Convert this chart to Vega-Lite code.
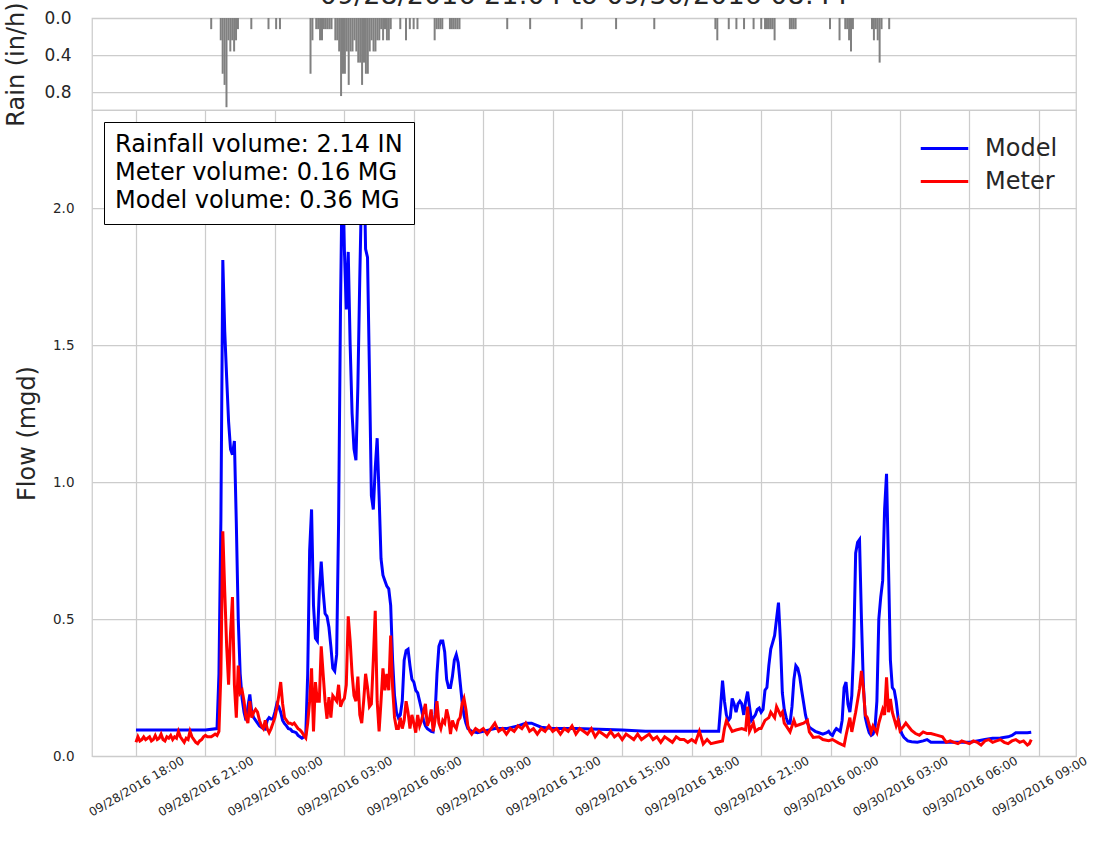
{
  "$schema": "https://vega.github.io/schema/vega-lite/v6.json",
  "background": "white",
  "padding": {"left": 4, "top": -19, "right": 0, "bottom": 0},
  "config": {
    "font": "DejaVu Sans",
    "view": {"stroke": "#cccccc", "strokeWidth": 1.25},
    "axis": {"gridColor": "#cccccc", "gridWidth": 1.25, "domain": false, "ticks": false, "labelColor": "#262626", "titleColor": "#262626", "titleFontWeight": "normal"}
  },
  "spacing": 0,
  "bounds": "flush",
  "resolve": {"legend": {"color": "independent", "shape": "independent"}},
  "vconcat": [
    {
      "title": {"text": "09/28/2016 21:04 to 09/30/2016 08:44", "fontSize": 27, "fontWeight": "normal", "color": "#262626", "anchor": "middle", "offset": -8},
      "width": 984,
      "height": 92,
      "data": {"name": "rain"},
      "mark": {"type": "bar", "color": "#808080", "size": 2},
      "encoding": {
        "x": {"field": "t", "type": "temporal", "scale": {"domain": [{"year": 2016, "month": 9, "date": 28, "hours": 16, "minutes": 6}, {"year": 2016, "month": 9, "date": 30, "hours": 10, "minutes": 36}]}, "axis": null},
        "y": {"field": "r", "type": "quantitative", "scale": {"domain": [0, 0.99], "reverse": true, "nice": false}, "axis": {"values": [0, 0.4, 0.8], "format": ".1f", "labelFontSize": 17, "labelPadding": 21, "title": "Rain (in/h)", "titleFontSize": 24, "titlePadding": 15}}
      }
    },
    {
      "width": 984,
      "height": 646,
      "encoding": {
        "x": {"field": "t", "type": "temporal", "scale": {"domain": [{"year": 2016, "month": 9, "date": 28, "hours": 16, "minutes": 6}, {"year": 2016, "month": 9, "date": 30, "hours": 10, "minutes": 36}]}, "axis": {"format": "%m/%d/%Y %H:%M", "values": [
          {"year": 2016, "month": 9, "date": 28, "hours": 18},
          {"year": 2016, "month": 9, "date": 28, "hours": 21},
          {"year": 2016, "month": 9, "date": 29, "hours": 0},
          {"year": 2016, "month": 9, "date": 29, "hours": 3},
          {"year": 2016, "month": 9, "date": 29, "hours": 6},
          {"year": 2016, "month": 9, "date": 29, "hours": 9},
          {"year": 2016, "month": 9, "date": 29, "hours": 12},
          {"year": 2016, "month": 9, "date": 29, "hours": 15},
          {"year": 2016, "month": 9, "date": 29, "hours": 18},
          {"year": 2016, "month": 9, "date": 29, "hours": 21},
          {"year": 2016, "month": 9, "date": 30, "hours": 0},
          {"year": 2016, "month": 9, "date": 30, "hours": 3},
          {"year": 2016, "month": 9, "date": 30, "hours": 6},
          {"year": 2016, "month": 9, "date": 30, "hours": 9}
        ], "labelAngle": -30, "labelAlign": "center", "labelBaseline": "middle", "labelPadding": 30, "labelFontSize": 12, "labelOverlap": false, "title": null, "grid": true}},
        "y": {"field": "v", "type": "quantitative", "scale": {"domain": [0, 2.358], "nice": false}, "axis": {"values": [0, 0.5, 1, 1.5, 2], "format": ".1f", "labelFontSize": 13.5, "labelPadding": 18, "title": "Flow (mgd)", "titleFontSize": 24, "titlePadding": 13}}
      },
      "layer": [
        {
          "data": {"name": "model"},
          "mark": {"type": "line", "strokeWidth": 3},
          "encoding": {"color": {"datum": "Model", "type": "nominal", "scale": {"domain": ["Model", "Meter"], "range": ["#0000ff", "#ff0000"]}, "legend": {"title": null, "orient": "top-right", "offset": 18, "padding": 0, "symbolType": "M-1.25,0H1.25", "symbolSize": 1444, "symbolStrokeWidth": 3, "labelFontSize": 24, "labelColor": "#262626", "labelOffset": 20, "rowPadding": 0}}}
        },
        {
          "data": {"name": "meter"},
          "mark": {"type": "line", "strokeWidth": 3},
          "encoding": {"color": {"datum": "Meter", "type": "nominal"}}
        },
        {
          "data": {"values": [{"info": "Rainfall volume: 2.14 IN"}, {"info": "Meter volume: 0.16 MG"}, {"info": "Model volume: 0.36 MG"}]},
          "mark": {"type": "point", "opacity": 0},
          "encoding": {
            "shape": {"field": "info", "type": "nominal", "scale": {"domain": ["Rainfall volume: 2.14 IN", "Meter volume: 0.16 MG", "Model volume: 0.36 MG"]}, "legend": {"title": null, "orient": "top-left", "offset": 12, "padding": 11, "symbolSize": 1, "symbolOpacity": 0, "symbolStrokeWidth": 0, "labelOffset": -24, "labelLimit": 500, "labelFontSize": 24, "labelColor": "#000000", "rowPadding": 4, "strokeColor": "#000000", "fillColor": "#ffffff"}}
          }
        }
      ]
    }
  ],
  "datasets": {
    "rain": [
      {"t": "2016-09-28T21:05", "r": 0.12},
      {"t": "2016-09-28T21:30", "r": 0.24},
      {"t": "2016-09-28T21:35", "r": 0.6},
      {"t": "2016-09-28T21:40", "r": 0.72},
      {"t": "2016-09-28T21:45", "r": 0.96},
      {"t": "2016-09-28T21:50", "r": 0.24},
      {"t": "2016-09-28T21:55", "r": 0.36},
      {"t": "2016-09-28T22:00", "r": 0.24},
      {"t": "2016-09-28T22:05", "r": 0.36},
      {"t": "2016-09-28T22:10", "r": 0.24},
      {"t": "2016-09-28T22:15", "r": 0.12},
      {"t": "2016-09-28T22:50", "r": 0.12},
      {"t": "2016-09-28T23:35", "r": 0.12},
      {"t": "2016-09-28T23:55", "r": 0.12},
      {"t": "2016-09-29T00:05", "r": 0.12},
      {"t": "2016-09-29T01:25", "r": 0.6},
      {"t": "2016-09-29T01:30", "r": 0.24},
      {"t": "2016-09-29T01:40", "r": 0.12},
      {"t": "2016-09-29T01:45", "r": 0.12},
      {"t": "2016-09-29T01:50", "r": 0.24},
      {"t": "2016-09-29T01:55", "r": 0.24},
      {"t": "2016-09-29T02:00", "r": 0.12},
      {"t": "2016-09-29T02:05", "r": 0.12},
      {"t": "2016-09-29T02:10", "r": 0.12},
      {"t": "2016-09-29T02:15", "r": 0.12},
      {"t": "2016-09-29T02:20", "r": 0.12},
      {"t": "2016-09-29T02:30", "r": 0.24},
      {"t": "2016-09-29T02:35", "r": 0.24},
      {"t": "2016-09-29T02:40", "r": 0.36},
      {"t": "2016-09-29T02:45", "r": 0.84},
      {"t": "2016-09-29T02:50", "r": 0.6},
      {"t": "2016-09-29T02:55", "r": 0.6},
      {"t": "2016-09-29T03:00", "r": 0.36},
      {"t": "2016-09-29T03:05", "r": 0.72},
      {"t": "2016-09-29T03:10", "r": 0.36},
      {"t": "2016-09-29T03:15", "r": 0.36},
      {"t": "2016-09-29T03:20", "r": 0.24},
      {"t": "2016-09-29T03:25", "r": 0.36},
      {"t": "2016-09-29T03:30", "r": 0.48},
      {"t": "2016-09-29T03:35", "r": 0.48},
      {"t": "2016-09-29T03:40", "r": 0.72},
      {"t": "2016-09-29T03:45", "r": 0.48},
      {"t": "2016-09-29T03:50", "r": 0.6},
      {"t": "2016-09-29T03:55", "r": 0.6},
      {"t": "2016-09-29T04:00", "r": 0.36},
      {"t": "2016-09-29T04:05", "r": 0.24},
      {"t": "2016-09-29T04:10", "r": 0.36},
      {"t": "2016-09-29T04:15", "r": 0.36},
      {"t": "2016-09-29T04:20", "r": 0.24},
      {"t": "2016-09-29T04:25", "r": 0.24},
      {"t": "2016-09-29T04:30", "r": 0.12},
      {"t": "2016-09-29T04:35", "r": 0.24},
      {"t": "2016-09-29T04:40", "r": 0.12},
      {"t": "2016-09-29T04:45", "r": 0.24},
      {"t": "2016-09-29T04:50", "r": 0.24},
      {"t": "2016-09-29T04:55", "r": 0.12},
      {"t": "2016-09-29T05:20", "r": 0.12},
      {"t": "2016-09-29T05:35", "r": 0.24},
      {"t": "2016-09-29T05:45", "r": 0.12},
      {"t": "2016-09-29T05:55", "r": 0.12},
      {"t": "2016-09-29T06:05", "r": 0.12},
      {"t": "2016-09-29T06:50", "r": 0.24},
      {"t": "2016-09-29T06:55", "r": 0.12},
      {"t": "2016-09-29T07:00", "r": 0.12},
      {"t": "2016-09-29T07:05", "r": 0.12},
      {"t": "2016-09-29T07:10", "r": 0.12},
      {"t": "2016-09-29T07:30", "r": 0.12},
      {"t": "2016-09-29T07:35", "r": 0.12},
      {"t": "2016-09-29T07:40", "r": 0.12},
      {"t": "2016-09-29T07:45", "r": 0.12},
      {"t": "2016-09-29T07:50", "r": 0.12},
      {"t": "2016-09-29T07:55", "r": 0.12},
      {"t": "2016-09-29T10:00", "r": 0.12},
      {"t": "2016-09-29T11:00", "r": 0.12},
      {"t": "2016-09-29T13:15", "r": 0.12},
      {"t": "2016-09-29T14:45", "r": 0.12},
      {"t": "2016-09-29T16:25", "r": 0.12},
      {"t": "2016-09-29T19:05", "r": 0.12},
      {"t": "2016-09-29T19:10", "r": 0.24},
      {"t": "2016-09-29T19:40", "r": 0.12},
      {"t": "2016-09-29T20:00", "r": 0.12},
      {"t": "2016-09-29T20:20", "r": 0.12},
      {"t": "2016-09-29T20:45", "r": 0.12},
      {"t": "2016-09-29T21:05", "r": 0.12},
      {"t": "2016-09-29T21:15", "r": 0.12},
      {"t": "2016-09-29T21:20", "r": 0.12},
      {"t": "2016-09-29T21:25", "r": 0.12},
      {"t": "2016-09-29T21:30", "r": 0.12},
      {"t": "2016-09-29T21:35", "r": 0.12},
      {"t": "2016-09-29T21:40", "r": 0.24},
      {"t": "2016-09-29T22:20", "r": 0.12},
      {"t": "2016-09-29T22:25", "r": 0.12},
      {"t": "2016-09-29T22:30", "r": 0.12},
      {"t": "2016-09-29T22:35", "r": 0.12},
      {"t": "2016-09-30T00:05", "r": 0.12},
      {"t": "2016-09-30T00:30", "r": 0.24},
      {"t": "2016-09-30T00:45", "r": 0.12},
      {"t": "2016-09-30T00:50", "r": 0.12},
      {"t": "2016-09-30T00:55", "r": 0.24},
      {"t": "2016-09-30T01:00", "r": 0.36},
      {"t": "2016-09-30T01:05", "r": 0.12},
      {"t": "2016-09-30T01:55", "r": 0.12},
      {"t": "2016-09-30T02:00", "r": 0.24},
      {"t": "2016-09-30T02:05", "r": 0.12},
      {"t": "2016-09-30T02:10", "r": 0.24},
      {"t": "2016-09-30T02:15", "r": 0.48},
      {"t": "2016-09-30T02:20", "r": 0.12},
      {"t": "2016-09-30T02:40", "r": 0.12}
    ],
    "model": [
      {"t": "2016-09-28T18:00", "v": 0.095},
      {"t": "2016-09-28T19:00", "v": 0.095},
      {"t": "2016-09-28T20:00", "v": 0.095},
      {"t": "2016-09-28T21:00", "v": 0.095},
      {"t": "2016-09-28T21:30", "v": 0.1},
      {"t": "2016-09-28T21:35", "v": 0.3},
      {"t": "2016-09-28T21:40", "v": 0.86},
      {"t": "2016-09-28T21:45", "v": 1.81},
      {"t": "2016-09-28T21:50", "v": 1.55},
      {"t": "2016-09-28T21:55", "v": 1.38},
      {"t": "2016-09-28T22:00", "v": 1.22},
      {"t": "2016-09-28T22:05", "v": 1.12},
      {"t": "2016-09-28T22:10", "v": 1.1},
      {"t": "2016-09-28T22:15", "v": 1.15},
      {"t": "2016-09-28T22:20", "v": 0.85},
      {"t": "2016-09-28T22:25", "v": 0.5},
      {"t": "2016-09-28T22:30", "v": 0.3},
      {"t": "2016-09-28T22:35", "v": 0.21},
      {"t": "2016-09-28T22:40", "v": 0.16},
      {"t": "2016-09-28T22:45", "v": 0.13},
      {"t": "2016-09-28T22:50", "v": 0.18},
      {"t": "2016-09-28T22:55", "v": 0.225},
      {"t": "2016-09-28T23:00", "v": 0.16},
      {"t": "2016-09-28T23:05", "v": 0.14},
      {"t": "2016-09-28T23:10", "v": 0.13},
      {"t": "2016-09-28T23:15", "v": 0.12},
      {"t": "2016-09-28T23:20", "v": 0.11},
      {"t": "2016-09-28T23:25", "v": 0.105},
      {"t": "2016-09-28T23:30", "v": 0.1},
      {"t": "2016-09-28T23:35", "v": 0.098},
      {"t": "2016-09-28T23:40", "v": 0.13},
      {"t": "2016-09-28T23:45", "v": 0.14},
      {"t": "2016-09-28T23:50", "v": 0.135},
      {"t": "2016-09-28T23:55", "v": 0.135},
      {"t": "2016-09-29T00:00", "v": 0.16},
      {"t": "2016-09-29T00:05", "v": 0.19},
      {"t": "2016-09-29T00:10", "v": 0.18},
      {"t": "2016-09-29T00:15", "v": 0.16},
      {"t": "2016-09-29T00:20", "v": 0.13},
      {"t": "2016-09-29T00:25", "v": 0.118},
      {"t": "2016-09-29T00:30", "v": 0.11},
      {"t": "2016-09-29T00:35", "v": 0.1},
      {"t": "2016-09-29T00:40", "v": 0.098},
      {"t": "2016-09-29T00:45", "v": 0.09},
      {"t": "2016-09-29T00:50", "v": 0.088},
      {"t": "2016-09-29T00:55", "v": 0.085},
      {"t": "2016-09-29T01:00", "v": 0.075},
      {"t": "2016-09-29T01:05", "v": 0.07},
      {"t": "2016-09-29T01:10", "v": 0.065},
      {"t": "2016-09-29T01:15", "v": 0.07},
      {"t": "2016-09-29T01:20", "v": 0.078},
      {"t": "2016-09-29T01:25", "v": 0.3},
      {"t": "2016-09-29T01:30", "v": 0.75},
      {"t": "2016-09-29T01:35", "v": 0.9},
      {"t": "2016-09-29T01:40", "v": 0.55},
      {"t": "2016-09-29T01:45", "v": 0.43},
      {"t": "2016-09-29T01:50", "v": 0.42},
      {"t": "2016-09-29T01:55", "v": 0.6},
      {"t": "2016-09-29T02:00", "v": 0.71},
      {"t": "2016-09-29T02:05", "v": 0.6},
      {"t": "2016-09-29T02:10", "v": 0.52},
      {"t": "2016-09-29T02:15", "v": 0.51},
      {"t": "2016-09-29T02:20", "v": 0.47},
      {"t": "2016-09-29T02:25", "v": 0.4},
      {"t": "2016-09-29T02:30", "v": 0.32},
      {"t": "2016-09-29T02:35", "v": 0.31},
      {"t": "2016-09-29T02:40", "v": 0.37},
      {"t": "2016-09-29T02:45", "v": 0.85},
      {"t": "2016-09-29T02:50", "v": 1.64},
      {"t": "2016-09-29T02:55", "v": 2.2},
      {"t": "2016-09-29T03:00", "v": 1.85},
      {"t": "2016-09-29T03:05", "v": 1.63},
      {"t": "2016-09-29T03:10", "v": 1.84},
      {"t": "2016-09-29T03:15", "v": 1.5},
      {"t": "2016-09-29T03:20", "v": 1.25},
      {"t": "2016-09-29T03:25", "v": 1.12},
      {"t": "2016-09-29T03:30", "v": 1.08},
      {"t": "2016-09-29T03:35", "v": 1.35},
      {"t": "2016-09-29T03:40", "v": 1.75},
      {"t": "2016-09-29T03:45", "v": 2.1},
      {"t": "2016-09-29T03:50", "v": 2.25},
      {"t": "2016-09-29T03:55", "v": 1.85},
      {"t": "2016-09-29T04:00", "v": 1.82},
      {"t": "2016-09-29T04:05", "v": 1.4},
      {"t": "2016-09-29T04:10", "v": 0.95},
      {"t": "2016-09-29T04:15", "v": 0.9},
      {"t": "2016-09-29T04:20", "v": 1.05},
      {"t": "2016-09-29T04:25", "v": 1.16},
      {"t": "2016-09-29T04:30", "v": 0.95},
      {"t": "2016-09-29T04:35", "v": 0.72},
      {"t": "2016-09-29T04:40", "v": 0.66},
      {"t": "2016-09-29T04:45", "v": 0.64},
      {"t": "2016-09-29T04:50", "v": 0.62},
      {"t": "2016-09-29T04:55", "v": 0.61},
      {"t": "2016-09-29T05:00", "v": 0.55},
      {"t": "2016-09-29T05:05", "v": 0.35},
      {"t": "2016-09-29T05:10", "v": 0.22},
      {"t": "2016-09-29T05:15", "v": 0.16},
      {"t": "2016-09-29T05:20", "v": 0.14},
      {"t": "2016-09-29T05:25", "v": 0.15},
      {"t": "2016-09-29T05:30", "v": 0.2},
      {"t": "2016-09-29T05:35", "v": 0.35},
      {"t": "2016-09-29T05:40", "v": 0.385},
      {"t": "2016-09-29T05:45", "v": 0.39},
      {"t": "2016-09-29T05:50", "v": 0.33},
      {"t": "2016-09-29T05:55", "v": 0.28},
      {"t": "2016-09-29T06:00", "v": 0.27},
      {"t": "2016-09-29T06:05", "v": 0.24},
      {"t": "2016-09-29T06:10", "v": 0.23},
      {"t": "2016-09-29T06:15", "v": 0.2},
      {"t": "2016-09-29T06:20", "v": 0.17},
      {"t": "2016-09-29T06:25", "v": 0.13},
      {"t": "2016-09-29T06:30", "v": 0.11},
      {"t": "2016-09-29T06:35", "v": 0.1},
      {"t": "2016-09-29T06:40", "v": 0.095},
      {"t": "2016-09-29T06:45", "v": 0.09},
      {"t": "2016-09-29T06:50", "v": 0.088},
      {"t": "2016-09-29T06:55", "v": 0.15},
      {"t": "2016-09-29T07:00", "v": 0.3},
      {"t": "2016-09-29T07:05", "v": 0.4},
      {"t": "2016-09-29T07:10", "v": 0.42},
      {"t": "2016-09-29T07:15", "v": 0.42},
      {"t": "2016-09-29T07:20", "v": 0.38},
      {"t": "2016-09-29T07:25", "v": 0.28},
      {"t": "2016-09-29T07:30", "v": 0.25},
      {"t": "2016-09-29T07:35", "v": 0.25},
      {"t": "2016-09-29T07:40", "v": 0.29},
      {"t": "2016-09-29T07:45", "v": 0.35},
      {"t": "2016-09-29T07:50", "v": 0.37},
      {"t": "2016-09-29T07:55", "v": 0.34},
      {"t": "2016-09-29T08:00", "v": 0.27},
      {"t": "2016-09-29T08:05", "v": 0.2},
      {"t": "2016-09-29T08:10", "v": 0.15},
      {"t": "2016-09-29T08:15", "v": 0.12},
      {"t": "2016-09-29T08:20", "v": 0.1},
      {"t": "2016-09-29T08:30", "v": 0.09},
      {"t": "2016-09-29T08:45", "v": 0.085},
      {"t": "2016-09-29T09:00", "v": 0.09},
      {"t": "2016-09-29T09:30", "v": 0.1},
      {"t": "2016-09-29T10:00", "v": 0.1},
      {"t": "2016-09-29T10:30", "v": 0.11},
      {"t": "2016-09-29T10:50", "v": 0.12},
      {"t": "2016-09-29T11:05", "v": 0.12},
      {"t": "2016-09-29T11:30", "v": 0.105},
      {"t": "2016-09-29T12:00", "v": 0.1},
      {"t": "2016-09-29T13:00", "v": 0.1},
      {"t": "2016-09-29T14:00", "v": 0.098},
      {"t": "2016-09-29T15:00", "v": 0.095},
      {"t": "2016-09-29T16:00", "v": 0.09},
      {"t": "2016-09-29T17:00", "v": 0.09},
      {"t": "2016-09-29T18:00", "v": 0.09},
      {"t": "2016-09-29T19:00", "v": 0.09},
      {"t": "2016-09-29T19:10", "v": 0.09},
      {"t": "2016-09-29T19:15", "v": 0.18},
      {"t": "2016-09-29T19:20", "v": 0.275},
      {"t": "2016-09-29T19:25", "v": 0.2},
      {"t": "2016-09-29T19:30", "v": 0.15},
      {"t": "2016-09-29T19:35", "v": 0.13},
      {"t": "2016-09-29T19:40", "v": 0.14},
      {"t": "2016-09-29T19:45", "v": 0.21},
      {"t": "2016-09-29T19:50", "v": 0.19},
      {"t": "2016-09-29T19:55", "v": 0.16},
      {"t": "2016-09-29T20:00", "v": 0.19},
      {"t": "2016-09-29T20:05", "v": 0.2},
      {"t": "2016-09-29T20:10", "v": 0.19},
      {"t": "2016-09-29T20:15", "v": 0.15},
      {"t": "2016-09-29T20:20", "v": 0.2},
      {"t": "2016-09-29T20:25", "v": 0.235},
      {"t": "2016-09-29T20:30", "v": 0.18},
      {"t": "2016-09-29T20:35", "v": 0.13},
      {"t": "2016-09-29T20:40", "v": 0.14},
      {"t": "2016-09-29T20:45", "v": 0.15},
      {"t": "2016-09-29T20:50", "v": 0.17},
      {"t": "2016-09-29T20:55", "v": 0.175},
      {"t": "2016-09-29T21:00", "v": 0.16},
      {"t": "2016-09-29T21:05", "v": 0.17},
      {"t": "2016-09-29T21:10", "v": 0.24},
      {"t": "2016-09-29T21:15", "v": 0.25},
      {"t": "2016-09-29T21:20", "v": 0.33},
      {"t": "2016-09-29T21:25", "v": 0.39},
      {"t": "2016-09-29T21:30", "v": 0.415},
      {"t": "2016-09-29T21:35", "v": 0.44},
      {"t": "2016-09-29T21:40", "v": 0.5},
      {"t": "2016-09-29T21:45", "v": 0.56},
      {"t": "2016-09-29T21:50", "v": 0.42},
      {"t": "2016-09-29T21:55", "v": 0.23},
      {"t": "2016-09-29T22:00", "v": 0.17},
      {"t": "2016-09-29T22:05", "v": 0.14},
      {"t": "2016-09-29T22:10", "v": 0.12},
      {"t": "2016-09-29T22:15", "v": 0.12},
      {"t": "2016-09-29T22:20", "v": 0.18},
      {"t": "2016-09-29T22:25", "v": 0.28},
      {"t": "2016-09-29T22:30", "v": 0.33},
      {"t": "2016-09-29T22:35", "v": 0.32},
      {"t": "2016-09-29T22:40", "v": 0.29},
      {"t": "2016-09-29T22:45", "v": 0.24},
      {"t": "2016-09-29T22:50", "v": 0.195},
      {"t": "2016-09-29T22:55", "v": 0.15},
      {"t": "2016-09-29T23:00", "v": 0.12},
      {"t": "2016-09-29T23:05", "v": 0.105},
      {"t": "2016-09-29T23:10", "v": 0.1},
      {"t": "2016-09-29T23:20", "v": 0.09},
      {"t": "2016-09-29T23:30", "v": 0.085},
      {"t": "2016-09-29T23:40", "v": 0.08},
      {"t": "2016-09-29T23:50", "v": 0.085},
      {"t": "2016-09-29T23:55", "v": 0.09},
      {"t": "2016-09-30T00:00", "v": 0.08},
      {"t": "2016-09-30T00:05", "v": 0.075},
      {"t": "2016-09-30T00:10", "v": 0.09},
      {"t": "2016-09-30T00:15", "v": 0.1},
      {"t": "2016-09-30T00:20", "v": 0.095},
      {"t": "2016-09-30T00:25", "v": 0.09},
      {"t": "2016-09-30T00:30", "v": 0.13},
      {"t": "2016-09-30T00:35", "v": 0.25},
      {"t": "2016-09-30T00:40", "v": 0.27},
      {"t": "2016-09-30T00:45", "v": 0.19},
      {"t": "2016-09-30T00:50", "v": 0.16},
      {"t": "2016-09-30T00:55", "v": 0.22},
      {"t": "2016-09-30T01:00", "v": 0.4},
      {"t": "2016-09-30T01:05", "v": 0.74},
      {"t": "2016-09-30T01:10", "v": 0.78},
      {"t": "2016-09-30T01:15", "v": 0.79},
      {"t": "2016-09-30T01:20", "v": 0.5},
      {"t": "2016-09-30T01:25", "v": 0.26},
      {"t": "2016-09-30T01:30", "v": 0.14},
      {"t": "2016-09-30T01:35", "v": 0.11},
      {"t": "2016-09-30T01:40", "v": 0.085},
      {"t": "2016-09-30T01:45", "v": 0.075},
      {"t": "2016-09-30T01:50", "v": 0.08},
      {"t": "2016-09-30T01:55", "v": 0.1},
      {"t": "2016-09-30T02:00", "v": 0.2},
      {"t": "2016-09-30T02:05", "v": 0.5},
      {"t": "2016-09-30T02:10", "v": 0.58},
      {"t": "2016-09-30T02:15", "v": 0.64},
      {"t": "2016-09-30T02:20", "v": 0.9},
      {"t": "2016-09-30T02:25", "v": 1.03},
      {"t": "2016-09-30T02:30", "v": 0.7},
      {"t": "2016-09-30T02:35", "v": 0.35},
      {"t": "2016-09-30T02:40", "v": 0.25},
      {"t": "2016-09-30T02:45", "v": 0.24},
      {"t": "2016-09-30T02:50", "v": 0.2},
      {"t": "2016-09-30T02:55", "v": 0.14},
      {"t": "2016-09-30T03:00", "v": 0.1},
      {"t": "2016-09-30T03:05", "v": 0.08},
      {"t": "2016-09-30T03:10", "v": 0.068},
      {"t": "2016-09-30T03:20", "v": 0.055},
      {"t": "2016-09-30T03:30", "v": 0.052},
      {"t": "2016-09-30T03:45", "v": 0.05},
      {"t": "2016-09-30T04:00", "v": 0.055},
      {"t": "2016-09-30T04:10", "v": 0.06},
      {"t": "2016-09-30T04:20", "v": 0.05},
      {"t": "2016-09-30T04:40", "v": 0.05},
      {"t": "2016-09-30T05:00", "v": 0.05},
      {"t": "2016-09-30T05:30", "v": 0.05},
      {"t": "2016-09-30T06:00", "v": 0.05},
      {"t": "2016-09-30T06:20", "v": 0.055},
      {"t": "2016-09-30T06:40", "v": 0.06},
      {"t": "2016-09-30T07:00", "v": 0.065},
      {"t": "2016-09-30T07:20", "v": 0.066},
      {"t": "2016-09-30T07:40", "v": 0.07},
      {"t": "2016-09-30T07:50", "v": 0.075},
      {"t": "2016-09-30T08:00", "v": 0.085},
      {"t": "2016-09-30T08:15", "v": 0.085},
      {"t": "2016-09-30T08:30", "v": 0.085},
      {"t": "2016-09-30T08:40", "v": 0.087}
    ],
    "meter": [
      {"t": "2016-09-28T18:00", "v": 0.05},
      {"t": "2016-09-28T18:05", "v": 0.07},
      {"t": "2016-09-28T18:10", "v": 0.055},
      {"t": "2016-09-28T18:15", "v": 0.06},
      {"t": "2016-09-28T18:20", "v": 0.07},
      {"t": "2016-09-28T18:25", "v": 0.06},
      {"t": "2016-09-28T18:30", "v": 0.065},
      {"t": "2016-09-28T18:35", "v": 0.07},
      {"t": "2016-09-28T18:40", "v": 0.055},
      {"t": "2016-09-28T18:45", "v": 0.06},
      {"t": "2016-09-28T18:50", "v": 0.075},
      {"t": "2016-09-28T18:55", "v": 0.06},
      {"t": "2016-09-28T19:00", "v": 0.065},
      {"t": "2016-09-28T19:05", "v": 0.08},
      {"t": "2016-09-28T19:10", "v": 0.06},
      {"t": "2016-09-28T19:15", "v": 0.055},
      {"t": "2016-09-28T19:20", "v": 0.07},
      {"t": "2016-09-28T19:25", "v": 0.065},
      {"t": "2016-09-28T19:30", "v": 0.075},
      {"t": "2016-09-28T19:35", "v": 0.06},
      {"t": "2016-09-28T19:40", "v": 0.07},
      {"t": "2016-09-28T19:45", "v": 0.065},
      {"t": "2016-09-28T19:50", "v": 0.09},
      {"t": "2016-09-28T19:55", "v": 0.07},
      {"t": "2016-09-28T20:00", "v": 0.06},
      {"t": "2016-09-28T20:05", "v": 0.05},
      {"t": "2016-09-28T20:10", "v": 0.065},
      {"t": "2016-09-28T20:15", "v": 0.06},
      {"t": "2016-09-28T20:20", "v": 0.09},
      {"t": "2016-09-28T20:25", "v": 0.07},
      {"t": "2016-09-28T20:30", "v": 0.06},
      {"t": "2016-09-28T20:35", "v": 0.05},
      {"t": "2016-09-28T20:40", "v": 0.045},
      {"t": "2016-09-28T20:45", "v": 0.055},
      {"t": "2016-09-28T20:50", "v": 0.06},
      {"t": "2016-09-28T20:55", "v": 0.07},
      {"t": "2016-09-28T21:00", "v": 0.075},
      {"t": "2016-09-28T21:05", "v": 0.07},
      {"t": "2016-09-28T21:10", "v": 0.07},
      {"t": "2016-09-28T21:15", "v": 0.07},
      {"t": "2016-09-28T21:20", "v": 0.075},
      {"t": "2016-09-28T21:25", "v": 0.08},
      {"t": "2016-09-28T21:30", "v": 0.075},
      {"t": "2016-09-28T21:35", "v": 0.09},
      {"t": "2016-09-28T21:40", "v": 0.3},
      {"t": "2016-09-28T21:45", "v": 0.82},
      {"t": "2016-09-28T21:50", "v": 0.6},
      {"t": "2016-09-28T21:55", "v": 0.4},
      {"t": "2016-09-28T22:00", "v": 0.26},
      {"t": "2016-09-28T22:05", "v": 0.45},
      {"t": "2016-09-28T22:10", "v": 0.58},
      {"t": "2016-09-28T22:15", "v": 0.26},
      {"t": "2016-09-28T22:20", "v": 0.14},
      {"t": "2016-09-28T22:25", "v": 0.33},
      {"t": "2016-09-28T22:30", "v": 0.23},
      {"t": "2016-09-28T22:35", "v": 0.24},
      {"t": "2016-09-28T22:40", "v": 0.2},
      {"t": "2016-09-28T22:45", "v": 0.14},
      {"t": "2016-09-28T22:50", "v": 0.12},
      {"t": "2016-09-28T22:55", "v": 0.2},
      {"t": "2016-09-28T23:00", "v": 0.14},
      {"t": "2016-09-28T23:05", "v": 0.16},
      {"t": "2016-09-28T23:10", "v": 0.17},
      {"t": "2016-09-28T23:15", "v": 0.16},
      {"t": "2016-09-28T23:20", "v": 0.13},
      {"t": "2016-09-28T23:25", "v": 0.11},
      {"t": "2016-09-28T23:30", "v": 0.1},
      {"t": "2016-09-28T23:35", "v": 0.13},
      {"t": "2016-09-28T23:40", "v": 0.1},
      {"t": "2016-09-28T23:45", "v": 0.085},
      {"t": "2016-09-28T23:50", "v": 0.1},
      {"t": "2016-09-28T23:55", "v": 0.12},
      {"t": "2016-09-29T00:00", "v": 0.14},
      {"t": "2016-09-29T00:05", "v": 0.175},
      {"t": "2016-09-29T00:10", "v": 0.22},
      {"t": "2016-09-29T00:15", "v": 0.27},
      {"t": "2016-09-29T00:20", "v": 0.19},
      {"t": "2016-09-29T00:25", "v": 0.14},
      {"t": "2016-09-29T00:30", "v": 0.13},
      {"t": "2016-09-29T00:35", "v": 0.12},
      {"t": "2016-09-29T00:40", "v": 0.12},
      {"t": "2016-09-29T00:45", "v": 0.115},
      {"t": "2016-09-29T00:50", "v": 0.12},
      {"t": "2016-09-29T00:55", "v": 0.11},
      {"t": "2016-09-29T01:00", "v": 0.1},
      {"t": "2016-09-29T01:05", "v": 0.095},
      {"t": "2016-09-29T01:10", "v": 0.087},
      {"t": "2016-09-29T01:15", "v": 0.075},
      {"t": "2016-09-29T01:20", "v": 0.066},
      {"t": "2016-09-29T01:25", "v": 0.12},
      {"t": "2016-09-29T01:30", "v": 0.2},
      {"t": "2016-09-29T01:35", "v": 0.32},
      {"t": "2016-09-29T01:40", "v": 0.09},
      {"t": "2016-09-29T01:45", "v": 0.27},
      {"t": "2016-09-29T01:50", "v": 0.2},
      {"t": "2016-09-29T01:55", "v": 0.2},
      {"t": "2016-09-29T02:00", "v": 0.4},
      {"t": "2016-09-29T02:05", "v": 0.3},
      {"t": "2016-09-29T02:10", "v": 0.2},
      {"t": "2016-09-29T02:15", "v": 0.136},
      {"t": "2016-09-29T02:20", "v": 0.215},
      {"t": "2016-09-29T02:25", "v": 0.14},
      {"t": "2016-09-29T02:30", "v": 0.22},
      {"t": "2016-09-29T02:35", "v": 0.21},
      {"t": "2016-09-29T02:40", "v": 0.2},
      {"t": "2016-09-29T02:45", "v": 0.26},
      {"t": "2016-09-29T02:50", "v": 0.18},
      {"t": "2016-09-29T02:55", "v": 0.2},
      {"t": "2016-09-29T03:00", "v": 0.21},
      {"t": "2016-09-29T03:05", "v": 0.26},
      {"t": "2016-09-29T03:10", "v": 0.51},
      {"t": "2016-09-29T03:15", "v": 0.42},
      {"t": "2016-09-29T03:20", "v": 0.3},
      {"t": "2016-09-29T03:25", "v": 0.22},
      {"t": "2016-09-29T03:30", "v": 0.2},
      {"t": "2016-09-29T03:35", "v": 0.29},
      {"t": "2016-09-29T03:40", "v": 0.15},
      {"t": "2016-09-29T03:45", "v": 0.12},
      {"t": "2016-09-29T03:50", "v": 0.2},
      {"t": "2016-09-29T03:55", "v": 0.3},
      {"t": "2016-09-29T04:00", "v": 0.25},
      {"t": "2016-09-29T04:05", "v": 0.18},
      {"t": "2016-09-29T04:10", "v": 0.19},
      {"t": "2016-09-29T04:15", "v": 0.35},
      {"t": "2016-09-29T04:20", "v": 0.53},
      {"t": "2016-09-29T04:25", "v": 0.2},
      {"t": "2016-09-29T04:30", "v": 0.09},
      {"t": "2016-09-29T04:35", "v": 0.2},
      {"t": "2016-09-29T04:40", "v": 0.32},
      {"t": "2016-09-29T04:45", "v": 0.24},
      {"t": "2016-09-29T04:50", "v": 0.3},
      {"t": "2016-09-29T04:55", "v": 0.24},
      {"t": "2016-09-29T05:00", "v": 0.44},
      {"t": "2016-09-29T05:05", "v": 0.25},
      {"t": "2016-09-29T05:10", "v": 0.14},
      {"t": "2016-09-29T05:15", "v": 0.1},
      {"t": "2016-09-29T05:20", "v": 0.1},
      {"t": "2016-09-29T05:25", "v": 0.14},
      {"t": "2016-09-29T05:30", "v": 0.1},
      {"t": "2016-09-29T05:35", "v": 0.13},
      {"t": "2016-09-29T05:40", "v": 0.2},
      {"t": "2016-09-29T05:45", "v": 0.16},
      {"t": "2016-09-29T05:50", "v": 0.1},
      {"t": "2016-09-29T05:55", "v": 0.15},
      {"t": "2016-09-29T06:00", "v": 0.12},
      {"t": "2016-09-29T06:05", "v": 0.085},
      {"t": "2016-09-29T06:10", "v": 0.15},
      {"t": "2016-09-29T06:15", "v": 0.11},
      {"t": "2016-09-29T06:20", "v": 0.13},
      {"t": "2016-09-29T06:25", "v": 0.16},
      {"t": "2016-09-29T06:30", "v": 0.19},
      {"t": "2016-09-29T06:35", "v": 0.11},
      {"t": "2016-09-29T06:40", "v": 0.13},
      {"t": "2016-09-29T06:45", "v": 0.17},
      {"t": "2016-09-29T06:50", "v": 0.09},
      {"t": "2016-09-29T06:55", "v": 0.13},
      {"t": "2016-09-29T07:00", "v": 0.2},
      {"t": "2016-09-29T07:05", "v": 0.12},
      {"t": "2016-09-29T07:10", "v": 0.1},
      {"t": "2016-09-29T07:15", "v": 0.13},
      {"t": "2016-09-29T07:20", "v": 0.12},
      {"t": "2016-09-29T07:25", "v": 0.17},
      {"t": "2016-09-29T07:30", "v": 0.14},
      {"t": "2016-09-29T07:35", "v": 0.08},
      {"t": "2016-09-29T07:40", "v": 0.13},
      {"t": "2016-09-29T07:45", "v": 0.11},
      {"t": "2016-09-29T07:50", "v": 0.1},
      {"t": "2016-09-29T07:55", "v": 0.13},
      {"t": "2016-09-29T08:00", "v": 0.14},
      {"t": "2016-09-29T08:05", "v": 0.19},
      {"t": "2016-09-29T08:10", "v": 0.21},
      {"t": "2016-09-29T08:15", "v": 0.17},
      {"t": "2016-09-29T08:20", "v": 0.11},
      {"t": "2016-09-29T08:25", "v": 0.09},
      {"t": "2016-09-29T08:30", "v": 0.08},
      {"t": "2016-09-29T08:40", "v": 0.1},
      {"t": "2016-09-29T08:50", "v": 0.09},
      {"t": "2016-09-29T09:00", "v": 0.1},
      {"t": "2016-09-29T09:10", "v": 0.08},
      {"t": "2016-09-29T09:20", "v": 0.1},
      {"t": "2016-09-29T09:30", "v": 0.12},
      {"t": "2016-09-29T09:40", "v": 0.09},
      {"t": "2016-09-29T09:50", "v": 0.1},
      {"t": "2016-09-29T10:00", "v": 0.08},
      {"t": "2016-09-29T10:10", "v": 0.1},
      {"t": "2016-09-29T10:20", "v": 0.09},
      {"t": "2016-09-29T10:30", "v": 0.11},
      {"t": "2016-09-29T10:40", "v": 0.1},
      {"t": "2016-09-29T10:50", "v": 0.12},
      {"t": "2016-09-29T11:00", "v": 0.09},
      {"t": "2016-09-29T11:10", "v": 0.1},
      {"t": "2016-09-29T11:20", "v": 0.08},
      {"t": "2016-09-29T11:30", "v": 0.1},
      {"t": "2016-09-29T11:40", "v": 0.09},
      {"t": "2016-09-29T11:50", "v": 0.11},
      {"t": "2016-09-29T12:00", "v": 0.09},
      {"t": "2016-09-29T12:10", "v": 0.1},
      {"t": "2016-09-29T12:20", "v": 0.08},
      {"t": "2016-09-29T12:30", "v": 0.1},
      {"t": "2016-09-29T12:40", "v": 0.09},
      {"t": "2016-09-29T12:50", "v": 0.11},
      {"t": "2016-09-29T13:00", "v": 0.08},
      {"t": "2016-09-29T13:10", "v": 0.1},
      {"t": "2016-09-29T13:20", "v": 0.09},
      {"t": "2016-09-29T13:30", "v": 0.08},
      {"t": "2016-09-29T13:40", "v": 0.1},
      {"t": "2016-09-29T13:50", "v": 0.07},
      {"t": "2016-09-29T14:00", "v": 0.09},
      {"t": "2016-09-29T14:10", "v": 0.08},
      {"t": "2016-09-29T14:20", "v": 0.07},
      {"t": "2016-09-29T14:30", "v": 0.09},
      {"t": "2016-09-29T14:40", "v": 0.07},
      {"t": "2016-09-29T14:50", "v": 0.08},
      {"t": "2016-09-29T15:00", "v": 0.06},
      {"t": "2016-09-29T15:10", "v": 0.08},
      {"t": "2016-09-29T15:20", "v": 0.07},
      {"t": "2016-09-29T15:30", "v": 0.06},
      {"t": "2016-09-29T15:40", "v": 0.08},
      {"t": "2016-09-29T15:50", "v": 0.06},
      {"t": "2016-09-29T16:00", "v": 0.07},
      {"t": "2016-09-29T16:10", "v": 0.08},
      {"t": "2016-09-29T16:20", "v": 0.06},
      {"t": "2016-09-29T16:30", "v": 0.07},
      {"t": "2016-09-29T16:40", "v": 0.05},
      {"t": "2016-09-29T16:50", "v": 0.07},
      {"t": "2016-09-29T17:00", "v": 0.06},
      {"t": "2016-09-29T17:10", "v": 0.05},
      {"t": "2016-09-29T17:20", "v": 0.07},
      {"t": "2016-09-29T17:30", "v": 0.06},
      {"t": "2016-09-29T17:40", "v": 0.06},
      {"t": "2016-09-29T17:50", "v": 0.05},
      {"t": "2016-09-29T18:00", "v": 0.06},
      {"t": "2016-09-29T18:10", "v": 0.05},
      {"t": "2016-09-29T18:20", "v": 0.09},
      {"t": "2016-09-29T18:30", "v": 0.044},
      {"t": "2016-09-29T18:40", "v": 0.06},
      {"t": "2016-09-29T18:50", "v": 0.045},
      {"t": "2016-09-29T19:05", "v": 0.05},
      {"t": "2016-09-29T19:20", "v": 0.055},
      {"t": "2016-09-29T19:25", "v": 0.1},
      {"t": "2016-09-29T19:30", "v": 0.129},
      {"t": "2016-09-29T19:45", "v": 0.09},
      {"t": "2016-09-29T19:55", "v": 0.095},
      {"t": "2016-09-29T20:10", "v": 0.1},
      {"t": "2016-09-29T20:20", "v": 0.095},
      {"t": "2016-09-29T20:25", "v": 0.18},
      {"t": "2016-09-29T20:30", "v": 0.09},
      {"t": "2016-09-29T20:40", "v": 0.12},
      {"t": "2016-09-29T20:45", "v": 0.09},
      {"t": "2016-09-29T20:55", "v": 0.1},
      {"t": "2016-09-29T21:00", "v": 0.1},
      {"t": "2016-09-29T21:10", "v": 0.13},
      {"t": "2016-09-29T21:20", "v": 0.14},
      {"t": "2016-09-29T21:25", "v": 0.16},
      {"t": "2016-09-29T21:35", "v": 0.14},
      {"t": "2016-09-29T21:40", "v": 0.18},
      {"t": "2016-09-29T21:50", "v": 0.15},
      {"t": "2016-09-29T21:55", "v": 0.16},
      {"t": "2016-09-29T22:00", "v": 0.12},
      {"t": "2016-09-29T22:05", "v": 0.11},
      {"t": "2016-09-29T22:15", "v": 0.088},
      {"t": "2016-09-29T22:25", "v": 0.13},
      {"t": "2016-09-29T22:30", "v": 0.11},
      {"t": "2016-09-29T22:40", "v": 0.115},
      {"t": "2016-09-29T22:50", "v": 0.12},
      {"t": "2016-09-29T23:00", "v": 0.13},
      {"t": "2016-09-29T23:05", "v": 0.088},
      {"t": "2016-09-29T23:15", "v": 0.068},
      {"t": "2016-09-29T23:30", "v": 0.07},
      {"t": "2016-09-29T23:40", "v": 0.06},
      {"t": "2016-09-29T23:55", "v": 0.056},
      {"t": "2016-09-30T00:05", "v": 0.06},
      {"t": "2016-09-30T00:20", "v": 0.048},
      {"t": "2016-09-30T00:35", "v": 0.038},
      {"t": "2016-09-30T00:40", "v": 0.075},
      {"t": "2016-09-30T00:50", "v": 0.14},
      {"t": "2016-09-30T00:55", "v": 0.088},
      {"t": "2016-09-30T01:05", "v": 0.16},
      {"t": "2016-09-30T01:15", "v": 0.245},
      {"t": "2016-09-30T01:20", "v": 0.311},
      {"t": "2016-09-30T01:25", "v": 0.245},
      {"t": "2016-09-30T01:30", "v": 0.15},
      {"t": "2016-09-30T01:35", "v": 0.14},
      {"t": "2016-09-30T01:45", "v": 0.088},
      {"t": "2016-09-30T01:50", "v": 0.11},
      {"t": "2016-09-30T02:00", "v": 0.085},
      {"t": "2016-09-30T02:05", "v": 0.12},
      {"t": "2016-09-30T02:15", "v": 0.17},
      {"t": "2016-09-30T02:20", "v": 0.15},
      {"t": "2016-09-30T02:25", "v": 0.287},
      {"t": "2016-09-30T02:30", "v": 0.16},
      {"t": "2016-09-30T02:35", "v": 0.208},
      {"t": "2016-09-30T02:40", "v": 0.16},
      {"t": "2016-09-30T02:50", "v": 0.11},
      {"t": "2016-09-30T02:55", "v": 0.13},
      {"t": "2016-09-30T03:00", "v": 0.093},
      {"t": "2016-09-30T03:10", "v": 0.11},
      {"t": "2016-09-30T03:15", "v": 0.12},
      {"t": "2016-09-30T03:30", "v": 0.093},
      {"t": "2016-09-30T03:40", "v": 0.082},
      {"t": "2016-09-30T03:50", "v": 0.076},
      {"t": "2016-09-30T04:00", "v": 0.088},
      {"t": "2016-09-30T04:10", "v": 0.082},
      {"t": "2016-09-30T04:20", "v": 0.082},
      {"t": "2016-09-30T04:35", "v": 0.076},
      {"t": "2016-09-30T04:50", "v": 0.07},
      {"t": "2016-09-30T05:00", "v": 0.05},
      {"t": "2016-09-30T05:10", "v": 0.055},
      {"t": "2016-09-30T05:20", "v": 0.05},
      {"t": "2016-09-30T05:30", "v": 0.045},
      {"t": "2016-09-30T05:40", "v": 0.055},
      {"t": "2016-09-30T05:50", "v": 0.05},
      {"t": "2016-09-30T06:00", "v": 0.045},
      {"t": "2016-09-30T06:10", "v": 0.055},
      {"t": "2016-09-30T06:20", "v": 0.05},
      {"t": "2016-09-30T06:30", "v": 0.04},
      {"t": "2016-09-30T06:40", "v": 0.055},
      {"t": "2016-09-30T06:50", "v": 0.06},
      {"t": "2016-09-30T07:00", "v": 0.05},
      {"t": "2016-09-30T07:10", "v": 0.055},
      {"t": "2016-09-30T07:20", "v": 0.06},
      {"t": "2016-09-30T07:30", "v": 0.05},
      {"t": "2016-09-30T07:40", "v": 0.045},
      {"t": "2016-09-30T07:50", "v": 0.055},
      {"t": "2016-09-30T08:00", "v": 0.06},
      {"t": "2016-09-30T08:10", "v": 0.05},
      {"t": "2016-09-30T08:20", "v": 0.055},
      {"t": "2016-09-30T08:30", "v": 0.04},
      {"t": "2016-09-30T08:35", "v": 0.045},
      {"t": "2016-09-30T08:40", "v": 0.06}
    ]
  }
}
